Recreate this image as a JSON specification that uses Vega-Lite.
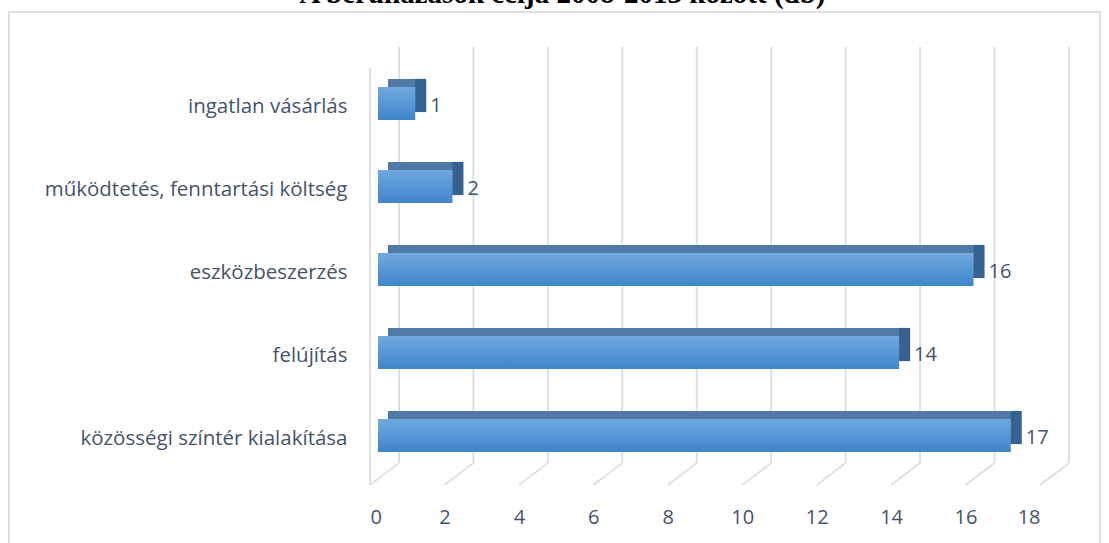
{
  "$schema": "https://vega.github.io/schema/vega-lite/v6.json",
  "autosize": {"type": "none"},
  "width": 1091,
  "height": 532,
  "padding": {"left": 9, "top": 12, "right": 9, "bottom": 0},
  "background": "white",
  "title": {
    "text": "A beruházások célja 2008-2013 között (db)",
    "font": "Liberation Serif",
    "fontSize": 29,
    "fontWeight": "bold",
    "color": "#000000",
    "anchor": "middle",
    "frame": "group",
    "baseline": "alphabetic",
    "offset": -20,
    "dx": 8
  },
  "config": {
    "view": {"stroke": "#dde1e6", "strokeWidth": 2},
    "font": "Open Sans"
  },
  "datasets": {
    "bars": [
      {"cel": "ingatlan vásárlás", "db": 1},
      {"cel": "működtetés, fenntartási költség", "db": 2},
      {"cel": "eszközbeszerzés", "db": 16},
      {"cel": "felújítás", "db": 14},
      {"cel": "közösségi színtér kialakítása", "db": 17}
    ],
    "ticks": [
      {"v": 0}, {"v": 2}, {"v": 4}, {"v": 6}, {"v": 8},
      {"v": 10}, {"v": 12}, {"v": 14}, {"v": 16}, {"v": 18}
    ]
  },
  "layer": [
    {
      "data": {"name": "ticks"},
      "mark": {"type": "rule", "color": "#dde1e6", "strokeWidth": 2, "xOffset": 21, "yOffset": -56.5, "y2Offset": 27.5},
      "encoding": {
        "x": {"field": "v", "type": "quantitative", "scale": {"domain": [0, 18], "range": [369, 1039], "nice": false, "zero": true},
          "axis": {
            "title": null, "values": [0, 2, 4, 6, 8, 10, 12, 14, 16, 18], "format": "d",
            "domain": false, "ticks": false, "grid": false,
            "offset": -27, "labelPadding": 0, "labelBaseline": "middle",
            "labelOffset": -8, "labelFontSize": 20, "labelColor": "#44546a", "labelFont": "Open Sans"
          }},
        "y": {"datum": "ingatlan vásárlás", "type": "nominal", "scale": {"domain": ["ingatlan vásárlás", "működtetés, fenntartási költség", "eszközbeszerzés", "felújítás", "közösségi színtér kialakítása"], "range": [50, 465], "paddingInner": 0, "paddingOuter": 0},
          "axis": {
            "title": null, "domain": false, "ticks": false, "grid": false,
            "offset": -338, "labelPadding": 0, "labelFontSize": 20.5,
            "labelColor": "#44546a", "labelFont": "Open Sans", "labelLimit": 400, "labelOffset": 3
          }},
        "y2": {"datum": "közösségi színtér kialakítása"}
      }
    },
    {
      "data": {"name": "ticks"},
      "mark": {"type": "rule", "color": "#dde1e6", "strokeWidth": 2, "xOffset": 21, "x2Offset": -8, "yOffset": 27.5, "y2Offset": 49.5},
      "encoding": {
        "x": {"field": "v", "type": "quantitative"},
        "x2": {"field": "v"},
        "y": {"datum": "közösségi színtér kialakítása", "type": "nominal"},
        "y2": {"datum": "közösségi színtér kialakítása"}
      }
    },
    {
      "data": {"values": [{"v": 0}]},
      "mark": {"type": "rule", "color": "#dde1e6", "strokeWidth": 2, "xOffset": -8, "yOffset": -35.5, "y2Offset": 49.5},
      "encoding": {
        "x": {"field": "v", "type": "quantitative"},
        "y": {"datum": "ingatlan vásárlás", "type": "nominal"},
        "y2": {"datum": "közösségi színtér kialakítása"}
      }
    },
    {
      "data": {"name": "bars"},
      "mark": {"type": "bar", "color": "#5079a6", "xOffset": 10, "yOffset": -8, "height": {"band": 0.4}},
      "encoding": {
        "x": {"field": "db", "type": "quantitative"},
        "y": {"field": "cel", "type": "nominal"}
      }
    },
    {
      "data": {"name": "bars"},
      "mark": {"type": "bar", "color": "#37628f", "x2Offset": 11, "yOffset": -8, "height": {"band": 0.4}},
      "encoding": {
        "x": {"field": "db", "type": "quantitative"},
        "x2": {"field": "db"},
        "y": {"field": "cel", "type": "nominal"}
      }
    },
    {
      "data": {"name": "bars"},
      "mark": {
        "type": "bar",
        "height": {"band": 0.4},
        "color": {
          "gradient": "linear",
          "x1": 0, "y1": 0, "x2": 0, "y2": 1,
          "stops": [
            {"offset": 0, "color": "#71a9e0"},
            {"offset": 1, "color": "#3e85ca"}
          ]
        }
      },
      "encoding": {
        "x": {"field": "db", "type": "quantitative"},
        "y": {"field": "cel", "type": "nominal"}
      }
    },
    {
      "data": {"name": "bars"},
      "mark": {"type": "text", "align": "left", "baseline": "middle", "dx": 15, "dy": 2, "fontSize": 20, "color": "#44546a", "font": "Open Sans"},
      "encoding": {
        "x": {"field": "db", "type": "quantitative"},
        "y": {"field": "cel", "type": "nominal"},
        "text": {"field": "db", "type": "quantitative"}
      }
    }
  ]
}
